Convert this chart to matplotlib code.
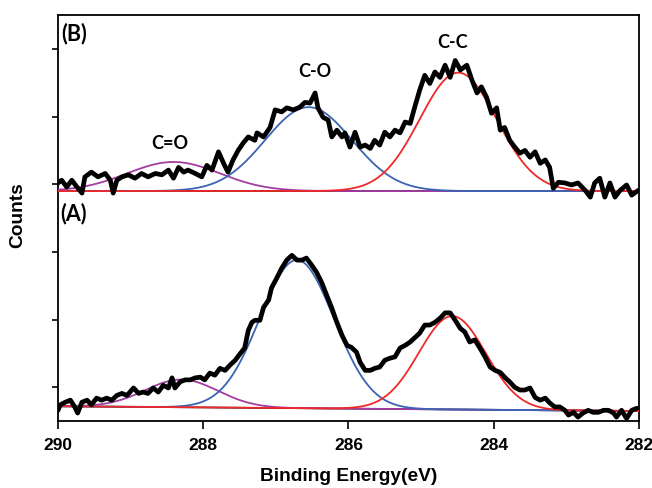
import numpy as np
import matplotlib
matplotlib.use("Agg")
import matplotlib.pyplot as plt

# ---- spectrum (B), raw counts (arb. units) ----
energy_b = [290.00, 289.95, 289.88, 289.81, 289.74, 289.67, 289.63, 289.54, 289.45, 289.35,
            289.28, 289.24, 289.19, 289.12, 289.03, 288.94, 288.85, 288.76, 288.66, 288.57,
            288.48, 288.41, 288.34, 288.27, 288.21, 288.11, 288.02, 287.95, 287.88, 287.79,
            287.72, 287.66, 287.59, 287.52, 287.45, 287.38, 287.29, 287.26, 287.17, 287.08,
            287.01, 286.92, 286.85, 286.76, 286.67, 286.60, 286.53, 286.46, 286.42, 286.35,
            286.28, 286.23, 286.16, 286.09, 286.05, 285.98, 285.91, 285.84, 285.77, 285.70,
            285.64, 285.57, 285.50, 285.43, 285.36, 285.29, 285.22, 285.15, 285.08, 285.02,
            284.95, 284.88, 284.81, 284.74, 284.67, 284.60, 284.53, 284.46, 284.37, 284.30,
            284.23, 284.17, 284.10, 284.03, 283.96, 283.91, 283.85, 283.78, 283.71, 283.64,
            283.57, 283.50, 283.43, 283.36, 283.29, 283.23, 283.18, 283.11, 283.02, 282.93,
            282.84, 282.74, 282.67, 282.61, 282.54, 282.47, 282.40, 282.33, 282.26, 282.17,
            282.10, 282.01]
counts_b = [3.52, 3.56, 3.46, 3.56, 3.46, 3.37, 3.61, 3.68, 3.61, 3.66,
            3.56, 3.37, 3.56, 3.61, 3.64, 3.59, 3.66, 3.61, 3.66, 3.64,
            3.71, 3.59, 3.75, 3.68, 3.71, 3.66, 3.61, 3.78, 3.71, 3.98,
            3.81, 3.68, 3.86, 4.00, 4.11, 4.20, 4.15, 4.26, 4.20, 4.34,
            4.60, 4.57, 4.63, 4.60, 4.64, 4.71, 4.70, 4.85, 4.63, 4.49,
            4.45, 4.20, 4.30, 4.20, 4.26, 4.05, 4.27, 4.05, 4.08, 4.03,
            4.15, 4.08, 4.27, 4.20, 4.30, 4.26, 4.42, 4.40, 4.67, 4.89,
            5.11, 4.99, 5.16, 5.08, 5.26, 5.08, 5.33, 5.19, 5.26, 5.04,
            4.85, 4.94, 4.79, 4.55, 4.63, 4.30, 4.34, 4.15, 4.05, 3.96,
            4.00, 3.90, 3.98, 3.81, 3.86, 3.75, 3.44, 3.53, 3.52, 3.49,
            3.52, 3.41, 3.31, 3.52, 3.59, 3.31, 3.52, 3.31, 3.41, 3.49,
            3.34, 3.41]

# ---- spectrum (A) ----
energy_a = [290.00, 289.97, 289.90, 289.83, 289.77, 289.73, 289.67, 289.60, 289.54, 289.47,
            289.40, 289.33, 289.26, 289.19, 289.12, 289.05, 288.96, 288.89, 288.83, 288.76,
            288.69, 288.62, 288.55, 288.48, 288.43, 288.39, 288.32, 288.25, 288.18, 288.11,
            288.04, 287.98, 287.91, 287.84, 287.77, 287.70, 287.63, 287.56, 287.49, 287.43,
            287.38, 287.33, 287.29, 287.22, 287.17, 287.10, 287.06, 286.99, 286.92, 286.85,
            286.78, 286.71, 286.64, 286.58, 286.51, 286.44, 286.37, 286.30, 286.23, 286.16,
            286.09, 286.02, 285.96, 285.89, 285.84, 285.77, 285.70, 285.64, 285.57, 285.50,
            285.43, 285.36, 285.29, 285.22, 285.15, 285.08, 285.02, 284.95, 284.88, 284.81,
            284.74, 284.67, 284.60, 284.53, 284.46, 284.40, 284.33, 284.26, 284.19, 284.12,
            284.05, 283.98, 283.91, 283.85, 283.78, 283.71, 283.64, 283.57, 283.50, 283.43,
            283.36, 283.29, 283.23, 283.16, 283.09, 283.02, 282.97, 282.90, 282.84, 282.77,
            282.70, 282.63, 282.56, 282.49, 282.42, 282.35, 282.31, 282.24, 282.17, 282.10,
            282.03]
counts_a = [0.16, 0.24, 0.28, 0.31, 0.21, 0.12, 0.28, 0.31, 0.24, 0.34,
            0.31, 0.34, 0.31, 0.38, 0.41, 0.38, 0.49, 0.41, 0.43, 0.41,
            0.49, 0.43, 0.53, 0.49, 0.64, 0.49, 0.58, 0.61, 0.61, 0.64,
            0.65, 0.61, 0.71, 0.68, 0.78, 0.75, 0.83, 0.90, 1.00, 1.08,
            1.34, 1.46, 1.49, 1.49, 1.68, 1.79, 1.97, 2.11, 2.26, 2.38,
            2.45, 2.38, 2.38, 2.41, 2.31, 2.20, 2.05, 1.86, 1.67, 1.46,
            1.27, 1.12, 1.09, 1.02, 0.87, 0.75, 0.75, 0.78, 0.80, 0.90,
            0.93, 0.95, 1.08, 1.12, 1.17, 1.24, 1.30, 1.42, 1.42, 1.46,
            1.52, 1.60, 1.60, 1.49, 1.37, 1.32, 1.17, 1.20, 1.08, 0.95,
            0.80, 0.75, 0.72, 0.65, 0.58, 0.50, 0.46, 0.46, 0.49, 0.35,
            0.31, 0.34, 0.27, 0.21, 0.21, 0.16, 0.09, 0.13, 0.06, 0.12,
            0.16, 0.13, 0.13, 0.16, 0.16, 0.12, 0.06, 0.16, 0.04, 0.16,
            0.19]

# ---- fitted components: C=O, C-O, C-C (centre eV, height, sigma eV) ----
peak_names = ["C=O", "C-O", "C-C"]
peak_colors = ["#a43ca4", "#3a64b4", "#f02828"]
centers_b = [288.41, 286.55, 284.49]
heights_b = [0.43, 1.24, 1.75]
sigmas_b = [0.64, 0.60, 0.53]
centers_a = [288.30, 286.71, 284.57]
heights_a = [0.41, 2.19, 1.38]
sigmas_a = [0.50, 0.51, 0.46]
baseline_b = [3.40, 3.40]   # at 290 eV, 282 eV
baseline_a = [0.22, 0.15]

x_ticks = [290, 288, 286, 284, 282]
y_ticks = [0.5, 1.5, 2.5, 3.5, 4.5, 5.5]

fig = plt.figure(figsize=(6.52, 4.88), dpi=100)
ax = fig.add_axes([0.089, 0.137, 0.891, 0.832])

grid = np.linspace(290, 282, 400)


def draw_spectrum(energy, counts, base, centers, heights, sigmas):
    bl = np.interp(grid, [282, 290], [base[1], base[0]])
    ax.plot(grid, bl, color="black", lw=1.2, zorder=2)
    for c, h, s, col in zip(centers, heights, sigmas, peak_colors):
        ax.plot(grid, bl + h * np.exp(-(grid - c) ** 2 / (2 * s * s)),
                color=col, lw=1.3, zorder=3)
    ax.plot(energy, counts, color="black", lw=3.4, zorder=4,
            solid_joinstyle="round", solid_capstyle="round")


draw_spectrum(energy_b, counts_b, baseline_b, centers_b, heights_b, sigmas_b)
draw_spectrum(energy_a, counts_a, baseline_a, centers_a, heights_a, sigmas_a)

ax.set_xlim(290, 282)
ax.set_ylim(0, 6)
ax.set_xticks(x_ticks)
ax.set_xticklabels([str(t) for t in x_ticks], fontweight="bold",
                   family="Liberation Sans", fontsize=12.5)
ax.set_yticks(y_ticks)
ax.set_yticklabels([])
ax.tick_params(axis="x", direction="out", length=6, width=1.2, pad=6)
ax.tick_params(axis="y", direction="out", length=4.5, width=1.2)
for sp in ax.spines.values():
    sp.set_linewidth(1.3)

ax.set_xlabel("Binding Energy(eV)", fontsize=13.8, fontweight="bold",
              family="Liberation Sans")
ax.xaxis.set_label_coords(0.5, -0.115)
ax.set_ylabel("Counts", fontsize=13.8, fontweight="bold", family="Liberation Sans")
ax.yaxis.set_label_coords(-0.054, 0.507)

lab_font = dict(family="Lato", fontsize=13)
ax.text(289.95, 5.73, "(B)", ha="left", va="center", fontweight="bold",
        family="Lato", fontsize=15.5)
ax.text(289.97, 3.07, "(A)", ha="left", va="center", fontweight="bold",
        family="Lato", fontsize=15.5)
for name, x, y in zip(peak_names, [288.46, 286.46, 284.56], [4.11, 5.16, 5.60]):
    ax.text(x, y, name, ha="center", va="center", fontweight="bold", **lab_font)

fig.savefig("out.png", dpi=100)
